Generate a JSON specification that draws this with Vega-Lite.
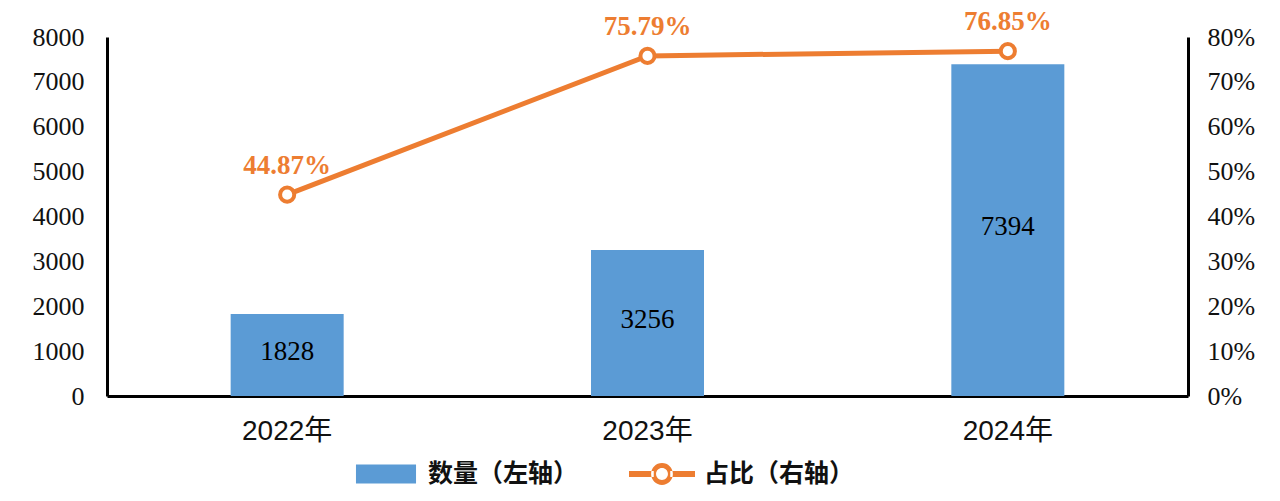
{
  "$schema": "https://vega.github.io/schema/vega-lite/v6.json",
  "width": 1081,
  "height": 359,
  "autosize": {"type": "none"},
  "padding": {"left": 107, "top": 37, "right": 92, "bottom": 105},
  "background": "white",
  "config": {
    "view": {"stroke": null},
    "axis": {"grid": false, "ticks": false, "domainColor": "black", "domainWidth": 3, "labelColor": "#111111"}
  },
  "data": {
    "values": [
      {"year": "2022年", "count": 1828, "share": 0.4487},
      {"year": "2023年", "count": 3256, "share": 0.7579},
      {"year": "2024年", "count": 7394, "share": 0.7685}
    ]
  },
  "encoding": {
    "x": {
      "field": "year",
      "type": "nominal",
      "sort": null,
      "scale": {"paddingInner": 0, "paddingOuter": 0},
      "axis": {"title": null, "labelAngle": 0, "labelFont": "Liberation Sans, Noto Sans CJK SC", "labelFontSize": 28, "labelPadding": 21}
    }
  },
  "layer": [
    {
      "mark": {"type": "bar", "width": 113},
      "encoding": {
        "y": {
          "field": "count",
          "type": "quantitative",
          "scale": {"domain": [0, 8000], "nice": false},
          "axis": {"title": null, "orient": "left", "values": [0, 1000, 2000, 3000, 4000, 5000, 6000, 7000, 8000], "format": "d", "labelFont": "Liberation Serif", "labelFontSize": 26, "labelPadding": 23}
        },
        "color": {
          "datum": "数量（左轴）",
          "scale": {"domain": ["数量（左轴）", "占比（右轴）"], "range": ["#5B9BD5", "#ED7D31"]},
          "legend": {
            "title": null,
            "orient": "none",
            "legendX": 246,
            "legendY": 404,
            "direction": "horizontal",
            "padding": 0,
            "symbolSize": 4356,
            "symbolStrokeWidth": 0,
            "labelFont": "Noto Sans CJK SC",
            "labelFontSize": 25,
            "labelFontWeight": "bold",
            "labelColor": "#111111",
            "labelOffset": 9,
            "labelLimit": 300,
            "columnPadding": 50,
            "encode": {
              "symbols": {
                "update": {
                  "shape": {"signal": "datum.value === '数量（左轴）' ? 'M-0.91,-0.29H0.91V0.29H-0.91Z' : 'M-1,-0.09H-0.25V0.09H-1Z M0.25,-0.09H1V0.09H0.25Z M-0.33,0A0.33,0.33 0 1,0 0.33,0A0.33,0.33 0 1,0 -0.33,0Z M-0.18,0A0.18,0.18 0 1,1 0.18,0A0.18,0.18 0 1,1 -0.18,0Z'"},
                  "fill": {"signal": "datum.value === '数量（左轴）' ? '#5B9BD5' : '#ED7D31'"},
                  "opacity": {"value": 1},
                  "strokeWidth": {"value": 0}
                }
              }
            }
          }
        }
      }
    },
    {
      "mark": {"type": "text", "font": "Liberation Serif", "fontSize": 27, "color": "#000000", "baseline": "middle", "dy": -3},
      "encoding": {
        "y": {"field": "count", "type": "quantitative", "scale": {"domain": [0, 16000], "nice": false}, "axis": null},
        "text": {"field": "count", "type": "quantitative", "format": "d"}
      }
    },
    {
      "layer": [
        {
          "mark": {"type": "line", "color": "#ED7D31", "strokeWidth": 5},
          "encoding": {}
        },
        {
          "mark": {"type": "point", "shape": "circle", "filled": true, "fill": "white", "stroke": "#ED7D31", "strokeWidth": 4, "size": 200, "opacity": 1}
        },
        {
          "mark": {"type": "text", "font": "Liberation Serif", "fontSize": 27, "fontWeight": "bold", "color": "#ED7D31", "baseline": "middle", "dy": -29},
          "encoding": {"text": {"field": "share", "type": "quantitative", "format": ".2%"}}
        }
      ],
      "encoding": {
        "y": {
          "field": "share",
          "type": "quantitative",
          "scale": {"domain": [0, 0.8], "nice": false},
          "axis": {"title": null, "orient": "right", "values": [0, 0.1, 0.2, 0.3, 0.4, 0.5, 0.6, 0.7, 0.8], "format": ".0%", "labelFont": "Liberation Serif", "labelFontSize": 26, "labelPadding": 19}
        }
      }
    }
  ],
  "resolve": {"scale": {"y": "independent"}}
}
